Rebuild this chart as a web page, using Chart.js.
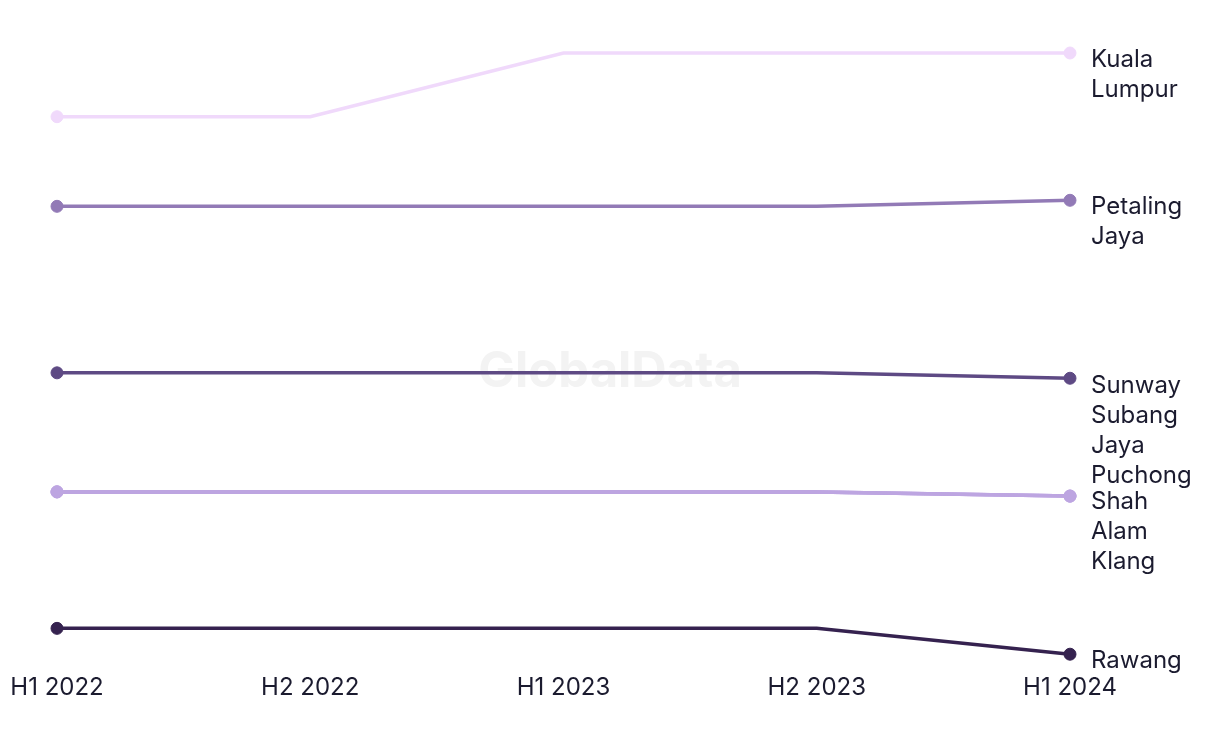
<!DOCTYPE html>
<html>
<head>
<meta charset="utf-8">
<script src="https://cdn.jsdelivr.net/npm/chart.js@4"></script>
<style>
html,body{margin:0;padding:0;background:#ffffff;}
#wrap{width:1220px;height:744px;}
</style>
</head>
<body>
<div id="wrap"><canvas id="c" width="1220" height="744"></canvas></div>
<script>
const categories = ['H1 2022', 'H2 2022', 'H1 2023', 'H2 2023', 'H1 2024'];

const kualaLumpur   = [89.4, 89.4, 100, 100, 100];
const petalingJaya  = [74.5, 74.5, 74.5, 74.5, 75.5];
const sunwaySubang  = [46.8, 46.8, 46.8, 46.8, 45.9];
const puchong       = [27.0, 27.0, 27.0, 27.0, 26.3];
const shahAlam      = [27.0, 27.0, 27.0, 27.0, 26.3];
const klang         = [27.0, 27.0, 27.0, 27.0, 26.3];
const rawang        = [4.3, 4.3, 4.3, 4.3, 0];

const FONT = 'Inter, "Noto Sans", sans-serif';
const TEXT = '#1b1b2f';

function endPointRadius(ctx) {
  const n = ctx.chart.data.labels.length;
  return (ctx.dataIndex === 0 || ctx.dataIndex === n - 1) ? 6 : 0;
}

function ds(label, data, color, lines, dy) {
  return {
    label, data,
    borderColor: color, backgroundColor: color,
    pointBackgroundColor: color, pointBorderColor: color,
    borderWidth: 3.5, pointRadius: endPointRadius, pointHoverRadius: endPointRadius,
    pointBorderWidth: 1,
    tension: 0, clip: false,
    endLabel: lines, endLabelDy: dy
  };
}

const endLabels = {
  id: 'endLabels',
  afterDatasetsDraw(chart) {
    const ctx = chart.ctx;
    ctx.save();
    ctx.font = '24px ' + FONT;
    ctx.fillStyle = TEXT;
    ctx.textAlign = 'left';
    ctx.textBaseline = 'middle';
    chart.data.datasets.forEach((d, i) => {
      const meta = chart.getDatasetMeta(i);
      const pt = meta.data[meta.data.length - 1];
      if (!pt || !d.endLabel) return;
      d.endLabel.forEach((t, k) => {
        ctx.fillText(t, pt.x + 21, pt.y + d.endLabelDy + k * 30);
      });
    });
    ctx.restore();
  }
};

const watermark = {
  id: 'watermark',
  beforeDatasetsDraw(chart) {
    const ctx = chart.ctx;
    ctx.save();
    ctx.font = 'bold 49px ' + FONT;
    ctx.fillStyle = '#f3f3f3';
    ctx.textAlign = 'center';
    ctx.textBaseline = 'middle';
    ctx.fillText('GlobalData', 610, 372);
    ctx.restore();
  }
};

new Chart(document.getElementById('c'), {
  type: 'line',
  data: {
    labels: categories,
    datasets: [
      ds('Kuala Lumpur', kualaLumpur, '#f0d9fb', ['Kuala', 'Lumpur'], 7),
      ds('Petaling Jaya', petalingJaya, '#927ab6', ['Petaling', 'Jaya'], 6),
      ds('Sunway Subang Jaya', sunwaySubang, '#5e4a84', ['Sunway', 'Subang', 'Jaya'], 8),
      ds('Shah Alam', shahAlam, '#bda5e1', ['Shah', 'Alam'], 6),
      ds('Puchong', puchong, '#bda5e1', ['Puchong'], -20),
      ds('Klang', klang, '#bda5e1', ['Klang'], 66),
      ds('Rawang', rawang, '#35224f', ['Rawang'], 7)
    ]
  },
  options: {
    responsive: false,
    devicePixelRatio: 1,
    animation: false,
    layout: { padding: { left: 57, right: 150, top: 53, bottom: 23 } },
    plugins: { legend: { display: false }, tooltip: { enabled: false } },
    scales: {
      x: {
        offset: false,
        grid: { display: false, drawTicks: false },
        border: { display: false },
        ticks: { color: TEXT, font: { family: FONT, size: 24 }, padding: 19, maxRotation: 0, autoSkip: false },
        afterFit(scale) { scale.paddingLeft = 0; scale.paddingRight = 0; }
      },
      y: {
        display: false,
        min: 0, max: 100
      }
    }
  },
  plugins: [watermark, endLabels]
});
</script>
</body>
</html>
